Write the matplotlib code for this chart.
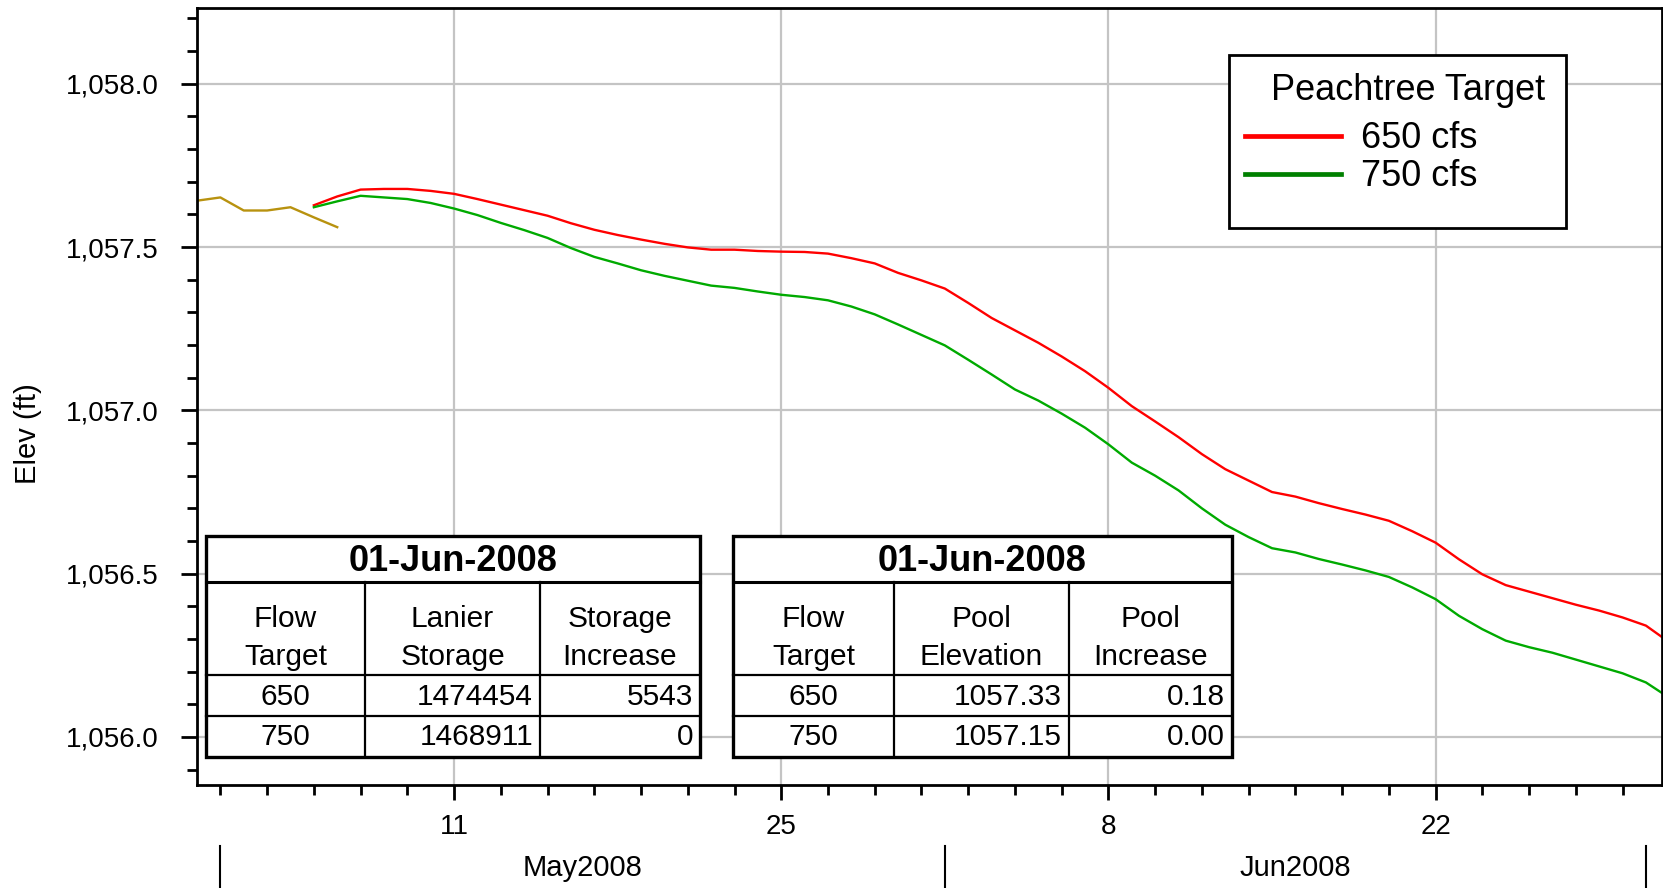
import matplotlib
matplotlib.use('Agg')
import matplotlib.pyplot as plt
import matplotlib.dates as mdates
import matplotlib.transforms as mtransforms
from matplotlib.ticker import MultipleLocator, FuncFormatter, FixedLocator
from matplotlib.lines import Line2D
from matplotlib.patches import Rectangle
import pandas as pd

plt.rcParams['font.family'] = ['Liberation Sans', 'DejaVu Sans']

W, H = 1663, 888

# observed pool (before the simulations start)
obs_start = '2008-04-30'
observed = [1057.642, 1057.652, 1057.612, 1057.612, 1057.622, 1057.591, 1057.561]

# simulated pool elevation, daily from 05 May
sim_start = '2008-05-05'
elev_650 = [1057.628, 1057.655, 1057.676, 1057.678, 1057.678, 1057.672, 1057.663,
            1057.647, 1057.630, 1057.613, 1057.596, 1057.573, 1057.553, 1057.537,
            1057.523, 1057.510, 1057.499, 1057.492, 1057.492, 1057.488, 1057.486,
            1057.485, 1057.480, 1057.466, 1057.450, 1057.421, 1057.398,
            1057.373, 1057.329, 1057.283, 1057.245, 1057.207, 1057.165, 1057.120,
            1057.069, 1057.013, 1056.966, 1056.918, 1056.866, 1056.820, 1056.785,
            1056.750, 1056.736, 1056.716, 1056.698, 1056.681, 1056.662, 1056.630,
            1056.595, 1056.544, 1056.498, 1056.465, 1056.445, 1056.425, 1056.405,
            1056.387, 1056.366, 1056.341, 1056.290]
elev_750 = [1057.622, 1057.640, 1057.657, 1057.652, 1057.647, 1057.635, 1057.618,
            1057.598, 1057.574, 1057.552, 1057.528, 1057.497, 1057.470, 1057.450,
            1057.429, 1057.412, 1057.397, 1057.382, 1057.375, 1057.364, 1057.354,
            1057.347, 1057.337, 1057.318, 1057.294, 1057.263, 1057.231,
            1057.199, 1057.155, 1057.110, 1057.064, 1057.030, 1056.990, 1056.947,
            1056.896, 1056.840, 1056.800, 1056.755, 1056.700, 1056.650, 1056.612,
            1056.578, 1056.565, 1056.545, 1056.528, 1056.510, 1056.490, 1056.458,
            1056.422, 1056.371, 1056.330, 1056.295, 1056.275, 1056.258, 1056.237,
            1056.216, 1056.195, 1056.167, 1056.120]

legend_title = 'Peachtree Target'
series_labels = ['650 cfs', '750 cfs']

months = ['2008-05-01', '2008-06-01', '2008-07-01']
month_labels = ['May2008', 'Jun2008']

table_date = '01-Jun-2008'
flow_targets = ['650', '750']
storage_headers = ['Flow\nTarget', 'Lanier\nStorage', 'Storage\nIncrease']
lanier_storage = ['1474454', '1468911']
storage_increase = ['5543', '0']
pool_headers = ['Flow\nTarget', 'Pool\nElevation', 'Pool\nIncrease']
pool_elev = ['1057.33', '1057.15']
pool_increase = ['0.18', '0.00']


def fx(x):
    return x / W


def fy(y):
    return 1 - y / H


fig = plt.figure(figsize=(W / 100, H / 100), dpi=100)
ax = fig.add_axes([fx(197), fy(785), (1662 - 197) / W, (785 - 8) / H])

obs_dates = pd.date_range(obs_start, periods=len(observed), freq='D')
sim_dates = pd.date_range(sim_start, periods=len(elev_650), freq='D')

ax.plot(obs_dates, observed, color='#b8920f', lw=1.7)
ax.plot(sim_dates, elev_650, color='#ff0000', lw=1.7)
ax.plot(sim_dates, elev_750, color='#00aa00', lw=1.7)

ax.set_xlim(pd.Timestamp('2008-04-30'), pd.Timestamp('2008-07-01 16:30'))
ax.set_ylim(1055.853, 1058.232)

# y axis
ax.yaxis.set_major_locator(MultipleLocator(0.5))
ax.yaxis.set_minor_locator(MultipleLocator(0.1))
ax.yaxis.set_major_formatter(FuncFormatter(lambda v, p: '{:,.1f}'.format(v)))

# x axis: day numbers every 14 days, minor every 2 days
majors = pd.date_range('2008-05-11', periods=4, freq='14D')
minors = pd.date_range('2008-05-01', '2008-06-30', freq='2D')
ax.xaxis.set_major_locator(FixedLocator(mdates.date2num(majors)))
ax.xaxis.set_minor_locator(FixedLocator(mdates.date2num(minors)))
ax.xaxis.set_major_formatter(mdates.DateFormatter('%-d'))

ax.tick_params(axis='y', which='major', length=11.5, width=2, labelsize=20, pad=16)
ax.tick_params(axis='y', which='minor', length=7, width=2)
ax.tick_params(axis='x', which='major', length=11, width=2, labelsize=20, pad=10)
ax.tick_params(axis='x', which='minor', length=7, width=2)

ax.grid(True, which='major', color='#c4c4c4', lw=1.6)
ax.set_axisbelow(True)
for s in ax.spines.values():
    s.set_linewidth(2)
    s.set_color('black')

# month row under the day labels
trans = mtransforms.blended_transform_factory(ax.transData, ax.transAxes)
mnum = mdates.date2num(pd.to_datetime(months))
for m in mnum:
    ax.plot([m, m], [-0.0785, -0.131], transform=trans, clip_on=False,
            color='black', lw=1.5)
for i, lab in enumerate(month_labels):
    ax.text((mnum[i] + mnum[i + 1]) / 2, -0.107, lab, transform=trans,
            ha='center', va='center', fontsize=21)

fig.text(fx(28), fy(434), 'Elev (ft)', rotation=90, ha='center', va='center',
         fontsize=21)

# legend box drawn by hand to keep its offset layout
fig.add_artist(Rectangle((fx(1229), fy(228)), (1566 - 1229) / W, (228 - 55) / H,
                         transform=fig.transFigure, facecolor='white',
                         edgecolor='black', lw=2, zorder=5))
fig.text(fx(1408), fy(91), legend_title, ha='center', va='center', fontsize=26,
         zorder=7)
for lab, col, ly in zip(series_labels, ['#ff0000', '#008000'], [136, 174]):
    fig.add_artist(Line2D([fx(1245), fx(1341)], [fy(ly)] * 2,
                          transform=fig.transFigure, color=col, lw=3.4, zorder=6))
    fig.text(fx(1361), fy(ly + 2), lab, ha='left', va='center', fontsize=26, zorder=7)


def draw_table(xe, headers, col2, col3):
    ye = [536, 582, 675, 716, 757]
    fig.add_artist(Rectangle((fx(xe[0]), fy(ye[-1])), (xe[3] - xe[0]) / W,
                             (ye[-1] - ye[0]) / H, transform=fig.transFigure,
                             facecolor='white', edgecolor='black', lw=2.4,
                             zorder=5))
    fig.add_artist(Line2D([fx(xe[0]), fx(xe[3])], [fy(ye[1])] * 2,
                          transform=fig.transFigure, color='black', lw=2.2, zorder=6))
    for y in ye[2:4]:
        fig.add_artist(Line2D([fx(xe[0]), fx(xe[3])], [fy(y)] * 2,
                              transform=fig.transFigure, color='black', lw=1.6, zorder=6))
    for x in xe[1:3]:
        fig.add_artist(Line2D([fx(x)] * 2, [fy(ye[1]), fy(ye[-1])],
                              transform=fig.transFigure, color='black', lw=1.6, zorder=6))
    fig.text(fx((xe[0] + xe[3]) / 2), fy(561), table_date, ha='center', va='center',
             fontsize=26, fontweight='bold', zorder=7)
    for j, h in enumerate(headers):
        cx = (xe[j] + xe[j + 1]) / 2
        for k, part in enumerate(h.split('\n')):
            fig.text(fx(cx), fy(619 + 38 * k), part, ha='center', va='center',
                     fontsize=21.5, zorder=7)
    for i, ry in enumerate([697, 737]):
        fig.text(fx((xe[0] + xe[1]) / 2), fy(ry), flow_targets[i], ha='center',
                 va='center', fontsize=21.5, zorder=7)
        fig.text(fx(xe[2] - 7), fy(ry), col2[i], ha='right', va='center',
                 fontsize=21.5, zorder=7)
        fig.text(fx(xe[3] - 7), fy(ry), col3[i], ha='right', va='center',
                 fontsize=21.5, zorder=7)


draw_table([206, 365, 540, 700], storage_headers, lanier_storage, storage_increase)
draw_table([733, 894, 1069, 1232], pool_headers, pool_elev, pool_increase)

fig.savefig('out.png', dpi=100)
